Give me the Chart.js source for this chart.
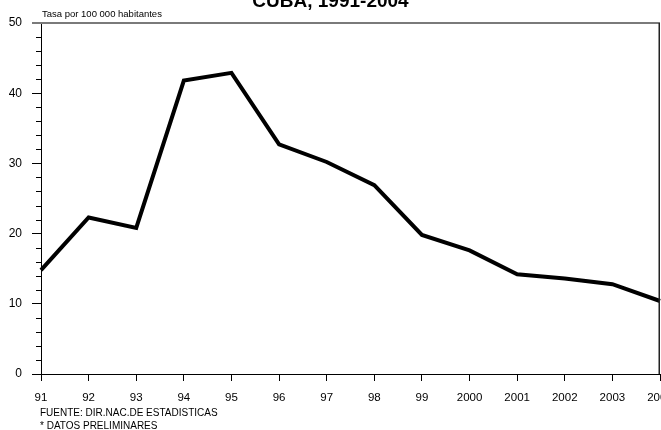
<!DOCTYPE html>
<html>
<head>
<meta charset="utf-8">
<script src="https://cdn.jsdelivr.net/npm/chart.js@4/dist/chart.umd.min.js"></script>
<style>
  html, body { margin: 0; padding: 0; background: #fff; }
  #wrap { width: 661px; height: 430px; }
</style>
</head>
<body>
<div id="wrap"><canvas id="c" width="661" height="430"></canvas></div>
<script>
// Años (etiquetas del eje X)
const years = ['91', '92', '93', '94', '95', '96', '97', '98', '99', '2000', '2001', '2002', '2003', '2004'];
// Tasa por 100 000 habitantes
const rates = [14.8, 22.3, 20.8, 41.8, 42.9, 32.7, 30.2, 26.9, 19.8, 17.6, 14.2, 13.6, 12.8, 10.4];
// Escala vertical
const yMin = 0;
const yMax = 50;
const yMajorStep = 10;
const yMinorStep = 2;

const FONT = '"Liberation Sans", Arial, Helvetica, sans-serif';

// Marco, marcas menores y textos del gráfico
const frame = {
  id: 'frame',
  afterDraw(chart) {
    const { ctx, chartArea: a, scales } = chart;
    const y = scales.y;
    ctx.save();

    // marcas menores del eje Y
    ctx.strokeStyle = '#000';
    ctx.lineWidth = 1;
    ctx.beginPath();
    for (let v = yMin + yMinorStep; v < yMax; v += yMinorStep) {
      if (v % yMajorStep === 0) continue;
      const py = Math.round(y.getPixelForValue(v)) + 0.5;
      ctx.moveTo(a.left - 5, py);
      ctx.lineTo(a.left, py);
    }
    ctx.stroke();

    // borde superior
    ctx.strokeStyle = '#7a7a7a';
    ctx.lineWidth = 2;
    ctx.beginPath();
    ctx.moveTo(a.left - 9, a.top);
    ctx.lineTo(a.right, a.top);
    ctx.stroke();

    // borde derecho
    ctx.strokeStyle = '#222';
    ctx.lineWidth = 1.5;
    ctx.beginPath();
    ctx.moveTo(a.right - 0.75, a.top);
    ctx.lineTo(a.right - 0.75, a.bottom);
    ctx.stroke();

    // textos
    ctx.fillStyle = '#000';
    ctx.textBaseline = 'alphabetic';
    ctx.textAlign = 'center';
    ctx.font = 'bold 19px ' + FONT;
    ctx.fillText('CUBA, 1991-2004', 330.5, 7);

    ctx.textAlign = 'left';
    ctx.font = '9.5px ' + FONT;
    ctx.fillText('Tasa por 100 000 habitantes', 42, 16.5);

    ctx.font = '10px ' + FONT;
    ctx.fillText('FUENTE: DIR.NAC.DE ESTADISTICAS', 40, 416);
    ctx.fillText('* DATOS PRELIMINARES', 40, 429);
    ctx.restore();
  }
};

new Chart(document.getElementById('c'), {
  type: 'line',
  data: {
    labels: years,
    datasets: [{
      data: rates,
      borderColor: '#000',
      borderWidth: 4,
      pointRadius: 0,
      tension: 0,
      fill: false,
      borderJoinStyle: 'miter'
    }]
  },
  options: {
    responsive: false,
    animation: false,
    devicePixelRatio: 1,
    layout: { padding: { top: 23, right: 1, left: 0, bottom: 0 } },
    plugins: {
      legend: { display: false },
      tooltip: { enabled: false },
      title: { display: false }
    },
    scales: {
      x: {
        type: 'category',
        offset: false,
        grid: { drawOnChartArea: false, tickLength: 7, color: '#000', tickColor: '#000', lineWidth: 1 },
        border: { display: true, color: '#000', width: 1 },
        ticks: {
          color: '#000',
          font: { family: FONT, size: 11.5 },
          padding: 10,
          maxRotation: 0,
          autoSkip: false
        },
        afterFit(scale) {
          scale.height = 56;
          scale.paddingLeft = 0;
          scale.paddingRight = 0;
        }
      },
      y: {
        min: yMin,
        max: yMax,
        grid: { drawOnChartArea: false, tickLength: 9, color: '#000', tickColor: '#000', lineWidth: 1 },
        border: { display: true, color: '#000', width: 1 },
        ticks: {
          stepSize: yMajorStep,
          color: '#000',
          font: { family: FONT, size: 12 },
          padding: 10
        },
        afterFit(scale) {
          scale.width = 41;
          scale.paddingTop = 0;
          scale.paddingBottom = 0;
        }
      }
    }
  },
  plugins: [frame]
});
</script>
</body>
</html>
